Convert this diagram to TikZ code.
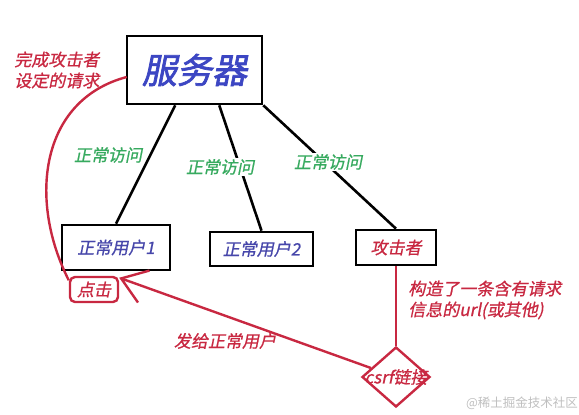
\documentclass[tikz,border=0pt]{standalone}
\usepackage{fontspec}
\usetikzlibrary{arrows.meta,shapes.geometric,calc}
\newfontfamily\cjk[FakeSlant=0.2,FakeBold=0.8]{Noto Sans CJK SC}
\newfontfamily\cjkbold[FakeSlant=0.2,FakeBold=2]{Noto Sans CJK SC}
\newfontfamily\cjkup{Noto Sans CJK SC}
\definecolor{srvblue}{RGB}{60,70,195}
\definecolor{usrblue}{RGB}{70,70,170}
\definecolor{okgreen}{RGB}{55,170,95}
\definecolor{atkred}{RGB}{200,40,65}

\begin{document}
\begin{tikzpicture}[x=1pt,y=-1pt,line width=2.6pt,
  box/.style={draw=black,line width=2.6pt,inner sep=0pt,fill=white},
  txt/.style={font=\cjk\fontsize{17}{21}\selectfont},
  ok/.style={txt,text=okgreen,fill=white,inner sep=1pt},
  red/.style={txt,text=atkred,align=left,inner sep=0pt}]
  \useasboundingbox (0,0) rectangle (579,415);

  % boxes
  \node[box,minimum width=135pt,minimum height=68pt,text=srvblue,
        font=\cjkbold\fontsize{35}{35}\selectfont] (srv) at (194.5,70) {服务器};
  \node[box,txt,text=usrblue,minimum width=108pt,minimum height=45pt] (usr1) at (116,247.5) {正常用户1};
  \node[box,txt,text=usrblue,minimum width=103pt,minimum height=34pt] (usr2) at (261.5,249) {正常用户2};
  \node[box,txt,text=atkred,minimum width=80pt,minimum height=35pt] (atk) at (396,247.5) {攻击者};
  \node[draw=atkred,line width=2.4pt,rounded corners=5pt,txt,text=atkred,
        minimum width=48pt,minimum height=25pt,inner sep=0pt] (click) at (94,289.5) {点击};
  \node[diamond,draw=atkred,line width=2.4pt,minimum width=68pt,minimum height=60pt,
        inner sep=0pt] (link) at (396,377) {};

  % normal access
  \draw ($(srv.south west)!0.36!(srv.south east)$) -- (usr1.north);
  \draw ($(srv.south west)!0.68!(srv.south east)$) -- (usr2.north);
  \draw (srv.south east) -- (atk.north);
  \node[ok] (acc1) at (108,155) {正常访问};
  \node[ok] (acc2) at (220,167) {正常访问};
  \node[ok] (acc3) at (328,162) {正常访问};

  % attack
  \draw[atkred,line width=2.4pt] ($(srv.west)+(1,7)$) .. controls (40,100) and (28,200) .. (click.160);
  \draw[atkred,line width=2.4pt] (atk.south) -- (link.north);
  \draw[atkred,line width=2.4pt,-{Straight Barb[length=24pt,width=34pt]}] (link) -- (click.25);
  \node[txt,text=atkred,inner sep=0pt] (linktxt) at (link.center) {csrf链接};

  \node[red,anchor=west] (done) at (13,70) {完成攻击者\\设定的请求};
  \node[red,anchor=west] (make) at (407,300) {构造了一条含有请求\\信息的url(或其他)};
  \node[red] (send) at (225,341) {发给正常用户};

  \node[font=\cjkup\fontsize{12.5}{14}\selectfont,text=black!25] (wm) at (522,403) {@稀土掘金技术社区};
\end{tikzpicture}
\end{document}
